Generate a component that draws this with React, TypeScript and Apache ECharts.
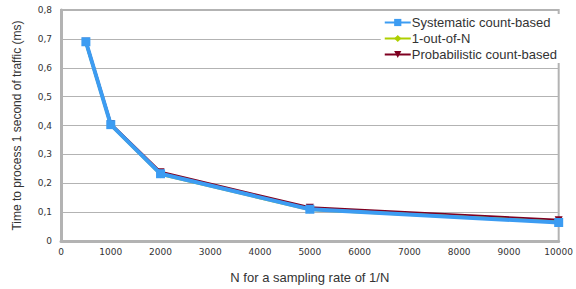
import React, { useEffect, useRef } from "react";
import * as echarts from "echarts";

const nValues = [500, 1000, 2000, 5000, 10000];
const systematic = [0.69, 0.403, 0.233, 0.11, 0.064];
const oneOutOfN = [0.688, 0.402, 0.231, 0.109, 0.066];
const probabilistic = [0.69, 0.405, 0.238, 0.115, 0.072];
const seriesNames = ["Systematic count-based", "1-out-of-N", "Probabilistic count-based"];

const pair = (ys: number[]) => nValues.map((x, i) => [x, ys[i]]);

export default function App() {
  const ref = useRef<HTMLDivElement>(null);
  useEffect(() => {
    const chart = echarts.init(ref.current!, null, { renderer: "svg" });
    chart.setOption({
      animation: false,
      grid: {
        left: 61,
        right: 11,
        top: 10,
        bottom: 47,
        show: true,
        borderColor: "#b3b3b3",
        borderWidth: 2,
      },
      legend: {
        orient: "vertical",
        right: 16,
        top: 14,
        data: seriesNames,
        backgroundColor: "#ffffff",
        itemWidth: 26,
        itemHeight: 9,
        itemGap: 3,
        padding: [2, 3, 2, 3],
        textStyle: { fontFamily: "Liberation Sans", fontSize: 13, color: "#333333", padding: [0, 0, 0, -4] },
      },
      xAxis: {
        type: "value",
        min: 0,
        max: 10000,
        interval: 1000,
        name: "N for a sampling rate of 1/N",
        nameLocation: "middle",
        nameGap: 30,
        nameTextStyle: { fontFamily: "Liberation Sans", fontSize: 13, color: "#333333" },
        axisLine: { show: true, lineStyle: { color: "#b3b3b3", width: 3 } },
        axisTick: { show: false },
        splitLine: { show: false },
        axisLabel: {
          fontFamily: "DejaVu Sans",
          fontSize: 9,
          color: "#333333",
          margin: 6,
          formatter: (v: number) => String(v),
        },
      },
      yAxis: {
        type: "value",
        min: 0,
        max: 0.8,
        interval: 0.1,
        name: "Time to process 1 second of traffic (ms)",
        nameLocation: "middle",
        nameGap: 38,
        nameTextStyle: { fontFamily: "Liberation Sans", fontSize: 12, color: "#333333" },
        axisLine: { show: true, lineStyle: { color: "#b3b3b3", width: 3 } },
        axisTick: { show: false },
        splitLine: { show: true, lineStyle: { color: "#b3b3b3", width: 1 } },
        axisLabel: {
          fontFamily: "DejaVu Sans",
          fontSize: 9,
          color: "#333333",
          margin: 9,
          formatter: (v: number) => (Math.round(v * 10) / 10).toString().replace(".", ","),
        },
      },
      series: [
        {
          name: seriesNames[2],
          type: "line",
          data: pair(probabilistic),
          symbol: "triangle",
          symbolRotate: 180,
          symbolSize: 8,
          color: "#7e0021",
          lineStyle: { width: 3, color: "#7e0021" },
          z: 2,
        },
        {
          name: seriesNames[1],
          type: "line",
          data: pair(oneOutOfN),
          symbol: "diamond",
          symbolSize: 8,
          color: "#aecf00",
          lineStyle: { width: 3, color: "#aecf00" },
          z: 3,
        },
        {
          name: seriesNames[0],
          type: "line",
          data: pair(systematic),
          symbol: "rect",
          symbolSize: 9,
          color: "#3c9cf2",
          lineStyle: { width: 4, color: "#3c9cf2" },
          z: 4,
        },
      ],
    });
    return () => chart.dispose();
  }, []);
  return <div ref={ref} style={{ width: 576, height: 289, position: "absolute", left: 0, top: 0 }} />;
}
